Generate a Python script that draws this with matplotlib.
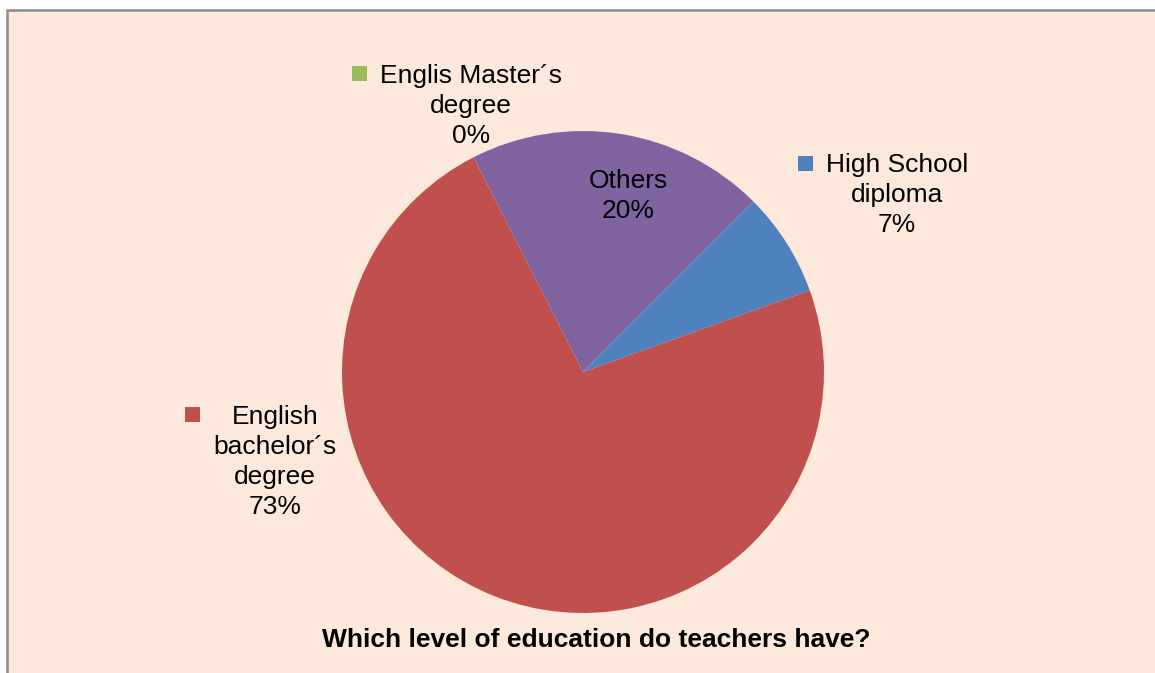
import matplotlib.pyplot as plt
from matplotlib.patches import Rectangle

plt.rcParams['font.family'] = ['Liberation Sans', 'DejaVu Sans']

# slices in clockwise order, starting at the top-left edge of "Others"
categories = ['Englis Master\u00b4s\ndegree', 'Others', 'High School\ndiploma',
              'English\nbachelor\u00b4s\ndegree']
shares = [0, 20, 7, 73]
colors = ['#9BBB59', '#8064A2', '#4F81BD', '#C0504D']
title = 'Which level of education do teachers have?'

W, H = 1155, 673
bg = '#FDE9DB'

fig = plt.figure(figsize=(W / 100, H / 100), dpi=100)
fig.patch.set_facecolor('white')
ax = fig.add_axes([0, 0, 1, 1])

# chart area with grey frame (runs off the right and bottom)
ax.add_patch(Rectangle((6.5, 9.5), W + 10, H + 10, facecolor=bg,
                       edgecolor='#8C8C8C', lw=1.8, zorder=0))

cx, cy, rad = 583, 372, 241
# y axis is flipped below, so counterclock=True draws clockwise on screen
wedges, _ = ax.pie(shares, colors=colors, startangle=-117, counterclock=True,
                   center=(cx, cy), radius=rad, frame=True,
                   wedgeprops=dict(linewidth=0))
ax.set_xlim(0, W)
ax.set_ylim(H, 0)
ax.set_aspect('equal')
ax.axis('off')

fs = 19
ls = 1.33


def label(x, y, text, key=None, keyx=None, keyy=None):
    ax.text(x, y, text, ha='center', va='center', multialignment='center',
            fontsize=fs, linespacing=ls, color='black', zorder=5)
    if key is not None:
        ax.add_patch(Rectangle((keyx, keyy), 15, 15, facecolor=key,
                               edgecolor='none', zorder=5))


pct = ['%d%%' % s for s in shares]
label(471, 106, categories[0] + '\n' + pct[0], colors[0], 352, 66)
label(628, 196, categories[1] + '\n' + pct[1])
label(897, 195, categories[2] + '\n' + pct[2], colors[2], 798, 156)
label(275, 462, categories[3] + '\n' + pct[3], colors[3], 185, 407)

ax.text(596, 640, title, ha='center', va='center', fontsize=19,
        fontweight='bold', color='black', zorder=5)

fig.savefig('out.png', dpi=100, facecolor='white')
